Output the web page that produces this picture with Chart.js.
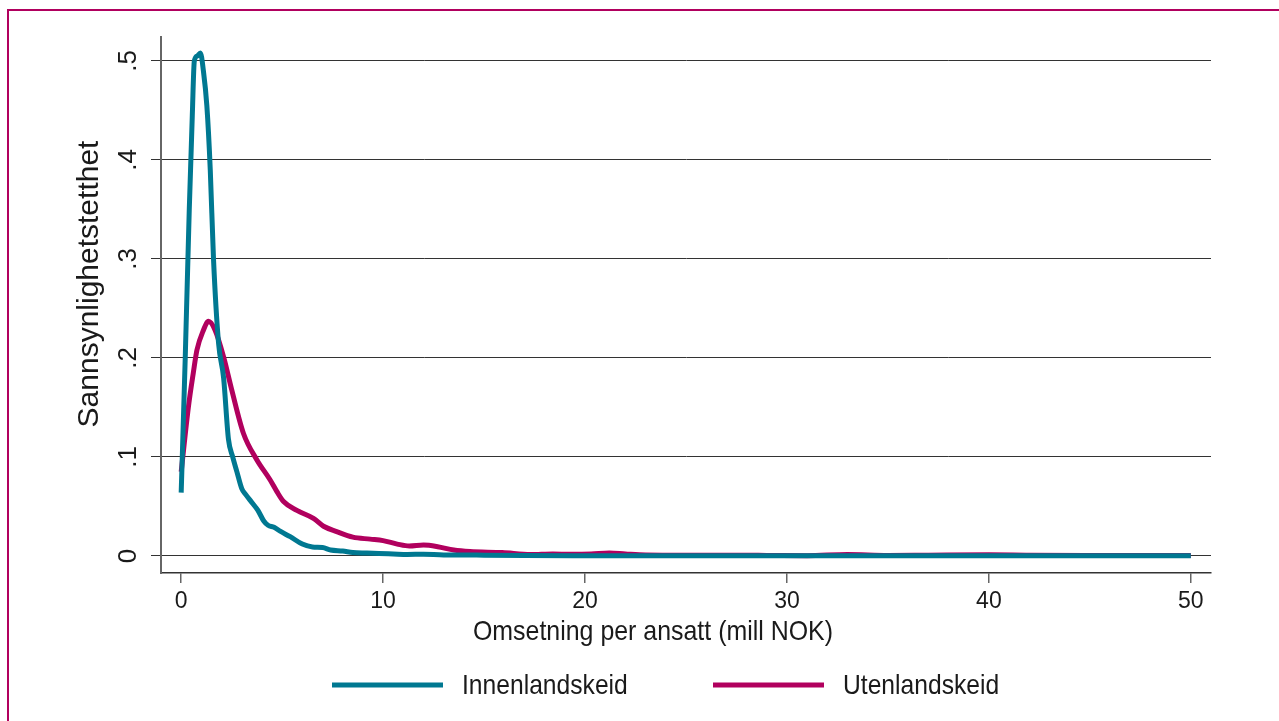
<!DOCTYPE html>
<html lang="no">

<head>
    <meta charset="UTF-8">
    <script src="https://cdn.jsdelivr.net/npm/chart.js"></script>
    <title>Sannsynlighetstetthet</title>
    <style>
        body { margin: 0; background: #fff; }
        #grafico { display: block; }
    </style>
</head>

<body>
    <canvas id="grafico" width="1279" height="721"></canvas>
</body>

</html>
<script>
    // omsetning per ansatt (mill NOK) og tetthet, lest av figuren
    const innenlandsX = [0, 0.2, 0.4, 0.55, 0.65, 0.8, 0.95, 1.1, 1.27, 1.44, 1.6, 1.85, 2.1, 2.34, 2.55, 2.76, 3.0, 3.2, 3.5, 3.8, 4.1, 4.3, 4.6, 4.9, 5.4, 6.0, 6.5, 7.0, 7.4, 8.0, 8.5, 9.2, 9.8, 10.5, 11.2, 12, 13, 14, 15, 17, 20, 25, 30, 35, 40, 45, 50]
    const innenlandsY = [0.064, 0.2, 0.35, 0.445, 0.5, 0.505, 0.508, 0.49, 0.455, 0.39, 0.3, 0.215, 0.18, 0.118, 0.1, 0.085, 0.068, 0.062, 0.054, 0.046, 0.035, 0.031, 0.029, 0.025, 0.0195, 0.012, 0.009, 0.0085, 0.006, 0.005, 0.0035, 0.003, 0.0025, 0.002, 0.0015, 0.0018, 0.001, 0.001, 0.0008, 0.0005, 0.0003, 0.0002, 0.0001, 0.0001, 0.0001, 0.0001, 0.0001]

    const utenlandsX = [0, 0.36, 0.6, 0.78, 1.1, 1.35, 1.68, 2.1, 2.5, 3.08, 3.75, 4.4, 4.74, 5.07, 5.73, 6.55, 7.05, 7.7, 8.5, 9.36, 10.0, 10.7, 11.3, 12.0, 12.7, 13.5, 14.3, 15.9, 17.3, 18.4, 19.3, 20.3, 21.2, 22, 23, 25, 27, 29, 31, 33, 35, 37, 40, 42, 45, 48, 50]
    const utenlandsY = [0.085, 0.151, 0.185, 0.208, 0.228, 0.237, 0.228, 0.201, 0.168, 0.124, 0.097, 0.077, 0.065, 0.055, 0.046, 0.038, 0.03, 0.0246, 0.019, 0.017, 0.0155, 0.012, 0.01, 0.011, 0.0094, 0.006, 0.0044, 0.0034, 0.0014, 0.002, 0.0017, 0.002, 0.003, 0.002, 0.001, 0.0008, 0.0008, 0.0006, 0.0003, 0.0015, 0.0005, 0.0008, 0.0012, 0.0008, 0.0005, 0.0005, 0.0004]

    const xTicks = [0, 10, 20, 30, 40, 50]
    const yTicks = [0, 0.1, 0.2, 0.3, 0.4, 0.5]
    const yTickLabels = ['0', '.1', '.2', '.3', '.4', '.5']

    const serier = ['Innenlandskeid', 'Utenlandskeid']
    const farger = ['#007891', '#b1005e']

    const vanligFont = "'Liberation Sans', Arial, sans-serif"

    function tilPunkter(xs, ys) {
        return xs.map((x, i) => ({ x: x, y: ys[i] }))
    }

    // smal tekst: ingen smal skrift installert, så teksten presses sammen
    function smalTekst(ctx, tekst, x, y, sx) {
        ctx.save()
        ctx.translate(x, y)
        ctx.scale(sx, 1)
        ctx.fillText(tekst, 0, 0)
        ctx.restore()
    }

    // tekst som Chart.js ikke plasserer slik figuren gjør: y-etiketter, titler, legende, ramme
    const tekstPlugin = {
        id: 'tekst',
        beforeDraw(chart) {
            const ctx = chart.ctx
            ctx.save()
            ctx.strokeStyle = '#b1005e'
            ctx.lineWidth = 2
            ctx.beginPath()
            ctx.moveTo(8, 721)
            ctx.lineTo(8, 10)
            ctx.lineTo(1279, 10)
            ctx.stroke()
            ctx.restore()
        },
        afterDraw(chart) {
            const ctx = chart.ctx
            const yScale = chart.scales.y
            ctx.save()
            ctx.fillStyle = '#1a1a1a'

            // y-etiketter, rotert
            ctx.font = '26px ' + vanligFont
            ctx.textAlign = 'center'
            ctx.textBaseline = 'middle'
            yTicks.forEach((v, i) => {
                ctx.save()
                ctx.translate(129, yScale.getPixelForValue(v))
                ctx.rotate(-Math.PI / 2)
                ctx.fillText(yTickLabels[i], 0, 0)
                ctx.restore()
            })

            // y-tittel
            ctx.save()
            ctx.font = '30px ' + vanligFont
            ctx.translate(90, 284)
            ctx.rotate(-Math.PI / 2)
            ctx.fillText('Sannsynlighetstetthet', 0, 0)
            ctx.restore()

            // x-tittel
            ctx.font = '28px ' + vanligFont
            smalTekst(ctx, 'Omsetning per ansatt (mill NOK)', 653, 632, 0.89)

            // legende
            const legX = [332, 713]
            chart.data.datasets.forEach((ds, i) => {
                ctx.strokeStyle = ds.borderColor
                ctx.lineWidth = 5
                ctx.beginPath()
                ctx.moveTo(legX[i], 685)
                ctx.lineTo(legX[i] + 111, 685)
                ctx.stroke()
                ctx.textAlign = 'left'
                smalTekst(ctx, ds.label, legX[i] + 130, 686, 0.88)
            })
            ctx.restore()
        }
    }

    const dados = {
        datasets: [{
            label: serier[0],
            data: tilPunkter(innenlandsX, innenlandsY),
            borderColor: farger[0],
            backgroundColor: farger[0],
            borderWidth: 5,
            pointRadius: 0,
            cubicInterpolationMode: 'monotone',
            fill: false
        },
        {
            label: serier[1],
            data: tilPunkter(utenlandsX, utenlandsY),
            borderColor: farger[1],
            backgroundColor: farger[1],
            borderWidth: 5,
            pointRadius: 0,
            cubicInterpolationMode: 'monotone',
            fill: false
        }]
    }

    const config = {
        type: 'line',
        data: dados,
        plugins: [tekstPlugin],
        options: {
            responsive: false,
            animation: false,
            devicePixelRatio: 1,
            layout: { padding: { top: 37, right: 68, left: 0, bottom: 0 } },
            plugins: {
                legend: { display: false },
                tooltip: { enabled: false }
            },
            scales: {
                x: {
                    type: 'linear',
                    min: -1,
                    max: 51,
                    afterBuildTicks: (scale) => { scale.ticks = xTicks.map(v => ({ value: v })) },
                    afterFit: (scale) => { scale.height = 721 - 573 },
                    ticks: {
                        font: { family: vanligFont, size: 23 },
                        color: '#1a1a1a',
                        padding: 5,
                        maxRotation: 0
                    },
                    grid: { drawOnChartArea: false, tickLength: 10, color: '#666', lineWidth: 1.5 },
                    border: { color: '#333', width: 1.5 }
                },
                y: {
                    min: -0.0172,
                    max: 0.5242,
                    afterBuildTicks: (scale) => { scale.ticks = yTicks.map(v => ({ value: v })) },
                    afterFit: (scale) => { scale.width = 161 },
                    ticks: { display: false },
                    grid: { color: '#333', lineWidth: 1, tickLength: 10 },
                    border: { color: '#666', width: 2 }
                }
            }
        }
    }

    new Chart(document.getElementById('grafico'), config)
</script>
